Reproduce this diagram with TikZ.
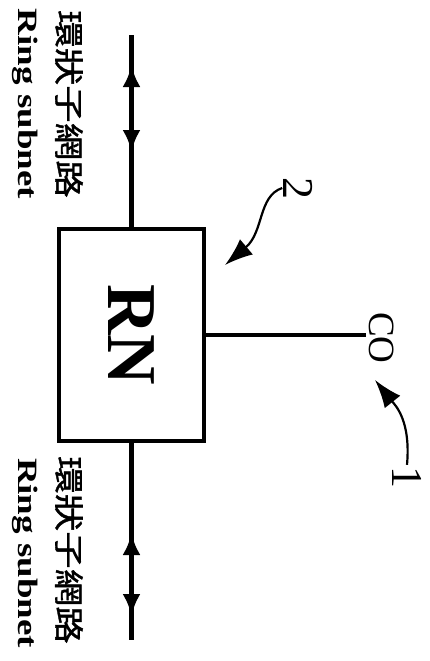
\documentclass[tikz,border=0pt]{standalone}
\usepackage{graphicx}
\usepackage{fontspec}
\setmainfont{Liberation Serif}
\newfontfamily\cjk[FakeBold=1.2]{Noto Sans CJK TC}
\usetikzlibrary{arrows.meta, decorations.markings}

\begin{document}
\begin{tikzpicture}[
      x=1pt, y=-1pt,
      rnbox/.style={rectangle, draw, line width=4pt, minimum width=145pt, minimum height=212pt, font=\bfseries\fontsize{70}{70}\selectfont},
      ringline/.style={line width=4.5pt, postaction={decorate}},
      coline/.style={line width=4pt},
      callout/.style={line width=2.2pt, -{Latex[length=28pt,width=20pt]}},
      zhlabel/.style={rotate=-90, inner sep=0pt, font=\cjk\fontsize{30}{30}\selectfont},
      enlabel/.style={rotate=-90, inner sep=0pt, font=\bfseries\fontsize{28}{28}\selectfont},
      numlabel/.style={rotate=-90, inner sep=1pt, font=\fontsize{44}{44}\selectfont},
      ringtip/.tip={Latex[length=22pt,width=18pt]}
  ]
  \useasboundingbox (0,0) rectangle (430,661);

  % Nodes
  \node[rnbox] (rn) at (131.5,335) {\rotatebox{-90}{RN}};
  \coordinate (ringtop) at (131.5,35);
  \coordinate (ringbot) at (131.5,640);
  \node[rotate=-90, inner sep=3pt, font=\fontsize{37}{37}\selectfont] (co) at (382,338) {CO};
  \node[numlabel] (n2) at (298,188) {2};
  \node[numlabel] (n1) at (407,477) {1};

  % Ring subnet labels
  \node[zhlabel] (zhtop) at (69,104) {\scalebox{1.25}[1]{環狀子網路}};
  \node[enlabel] (entop) at (25,104) {\scalebox{1.32}[1]{Ring subnet}};
  \node[zhlabel] (zhbot) at (69,550) {\scalebox{1.25}[1]{環狀子網路}};
  \node[enlabel] (enbot) at (25,553) {\scalebox{1.32}[1]{Ring subnet}};

  % Connectors
  \draw[ringline, decoration={markings,
        mark=at position 75pt with {\arrowreversed{ringtip}},
        mark=at position 162pt with {\arrow{ringtip}}}] (rn.north) -- (ringtop);
  \draw[ringline, decoration={markings,
        mark=at position 90pt with {\arrowreversed{ringtip}},
        mark=at position 173pt with {\arrow{ringtip}}}] (rn.south) -- (ringbot);
  \draw[coline] (rn.east) -- (rn.east -| co.south);

  % Callouts
  \draw[callout] (n2.south) .. controls (258,196) and (264,232) .. (225,265);
  \draw[callout] (n1.west) .. controls (411,420) and (395,405) .. (375,380);

\end{tikzpicture}
\end{document}
